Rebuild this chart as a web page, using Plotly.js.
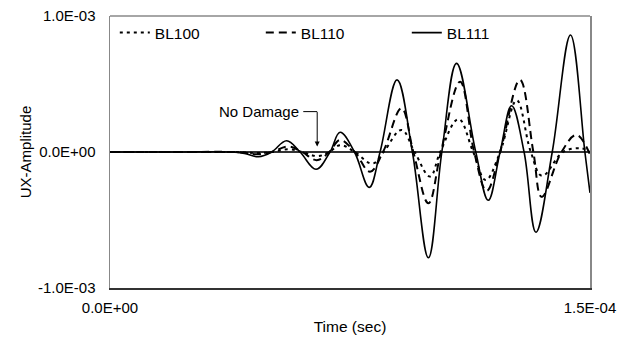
<!DOCTYPE html>
<html>
<head>
<meta charset="utf-8">
<script src="https://cdn.plot.ly/plotly-3.0.1.min.js"></script>
<style>html,body{margin:0;padding:0;background:#fff;}#chart{width:634px;height:345px;}</style>
</head>
<body>
<div id="chart"></div>
<script>
// Time in microseconds, amplitude in units of 1e-3
const tBL100 = [0, 20, 38, 42, 46, 50.5, 56, 60, 65, 68.5, 72, 76.5, 82, 85.5, 91.1, 95.2, 100, 103.2, 108.9, 113.5, 117.4, 121.9, 127.1, 131.5, 135, 141.6, 147.2, 150];
const aBL100 = [0, 0, 0, -0.003, -0.008, 0, 0.02, 0, -0.03, 0, 0.05, 0, -0.085, 0, 0.162, 0, -0.18, 0, 0.242, 0, -0.206, 0, 0.38, 0, -0.175, 0, 0.027, 0];

const tBL110 = [0, 20, 38, 42, 45.8, 50.5, 55.7, 60, 64.6, 68.5, 71.9, 76.5, 81.25, 85.3, 91.1, 94.8, 99.5, 103.4, 109.4, 113.8, 117.7, 121.9, 128.1, 132.3, 134.9, 141.1, 145.8, 150];
const aBL110 = [0, 0, 0, -0.005, -0.017, 0, 0.04, 0, -0.06, 0, 0.088, 0, -0.145, 0, 0.321, 0, -0.377, 0, 0.517, 0, -0.285, 0, 0.53, 0, -0.33, 0, 0.125, -0.02];

const tBL111 = [0, 20, 38, 42, 46.4, 50.5, 55.2, 59.4, 64.4, 68.75, 71.9, 76.4, 81, 84.4, 89.7, 94.5, 99.5, 103.7, 108.3, 114.3, 118.2, 121.9, 125.5, 129.4, 133.1, 138.2, 143.9, 148.4, 150];
const aBL111 = [0, 0, 0, -0.01, -0.035, 0, 0.083, 0, -0.127, 0, 0.145, 0, -0.26, 0, 0.53, 0, -0.778, 0, 0.652, 0, -0.355, 0, 0.34, 0, -0.59, 0, 0.86, 0, -0.3];

const xTickVals = [0, 1.5e-4];
const xTickText = ['0.0E+00', '1.5E-04'];
const yTickVals = [-1e-3, 0, 1e-3];
const yTickText = ['-1.0E-03', '0.0E+00', '1.0E-03'];

const sec = a => a.map(v => v * 1e-6);
const amp = a => a.map(v => v * 1e-3);

const font = 'Liberation Sans, Arial, sans-serif';

const traces = [
  {x: sec(tBL100), y: amp(aBL100), name: 'BL100', mode: 'lines',
   line: {color: '#000', width: 2, dash: '3px,4px', shape: 'spline', smoothing: 1.1}},
  {x: sec(tBL110), y: amp(aBL110), name: 'BL110', mode: 'lines',
   line: {color: '#000', width: 2, dash: '8px,5px', shape: 'spline', smoothing: 1.1}},
  {x: sec(tBL111), y: amp(aBL111), name: 'BL111', mode: 'lines',
   line: {color: '#000', width: 1.6, shape: 'spline', smoothing: 1.1}}
];

const layout = {
  width: 634, height: 345,
  margin: {l: 110, r: 44, t: 16, b: 57},
  paper_bgcolor: '#fff', plot_bgcolor: '#fff',
  font: {family: font, size: 15, color: '#000'},
  showlegend: true,
  legend: {orientation: 'h', x: 0.01, y: 1, xanchor: 'left', yanchor: 'top',
           bgcolor: 'rgba(0,0,0,0)', font: {size: 15.5}, itemwidth: 30,
           entrywidth: 101, entrywidthmode: 'pixels'},
  xaxis: {range: [0, 1.5e-4], tickvals: xTickVals, ticktext: xTickText,
          showgrid: false, zeroline: false, ticks: '', ticklabelstandoff: 5,
          showline: true, linecolor: '#333', linewidth: 1.5,
          title: {text: 'Time (sec)', font: {size: 15.5}, standoff: 6}},
  yaxis: {range: [-1e-3, 1e-3], tickvals: yTickVals, ticktext: yTickText,
          showgrid: false, zeroline: true, zerolinecolor: '#333', zerolinewidth: 2,
          ticks: '', ticklabelstandoff: 10,
          showline: true, linecolor: '#888', linewidth: 1.5, mirror: true,
          title: {text: 'UX-Amplitude', font: {size: 15}, standoff: 2}},
  shapes: [
    {type: 'line', xref: 'paper', yref: 'paper', x0: 0, x1: 1, y0: 1, y1: 1,
     line: {color: '#888', width: 1.5}},
    {type: 'line', xref: 'x', yref: 'y', x0: 60.4e-6, x1: 64.75e-6, y0: 0.297e-3, y1: 0.297e-3,
     line: {color: '#000', width: 1}}
  ],
  annotations: [
    {x: 59.8e-6, y: 0.300e-3, xref: 'x', yref: 'y', text: 'No Damage', showarrow: false,
     xanchor: 'right', yanchor: 'middle', font: {size: 15}},
    {x: 64.75e-6, y: 0.04e-3, xref: 'x', yref: 'y', text: '', showarrow: true,
     ax: 0, ay: -36, arrowhead: 2, arrowsize: 1, arrowwidth: 1, arrowcolor: '#000'}
  ]
};

Plotly.newPlot('chart', traces, layout, {displayModeBar: false, staticPlot: true});
</script>
</body>
</html>
